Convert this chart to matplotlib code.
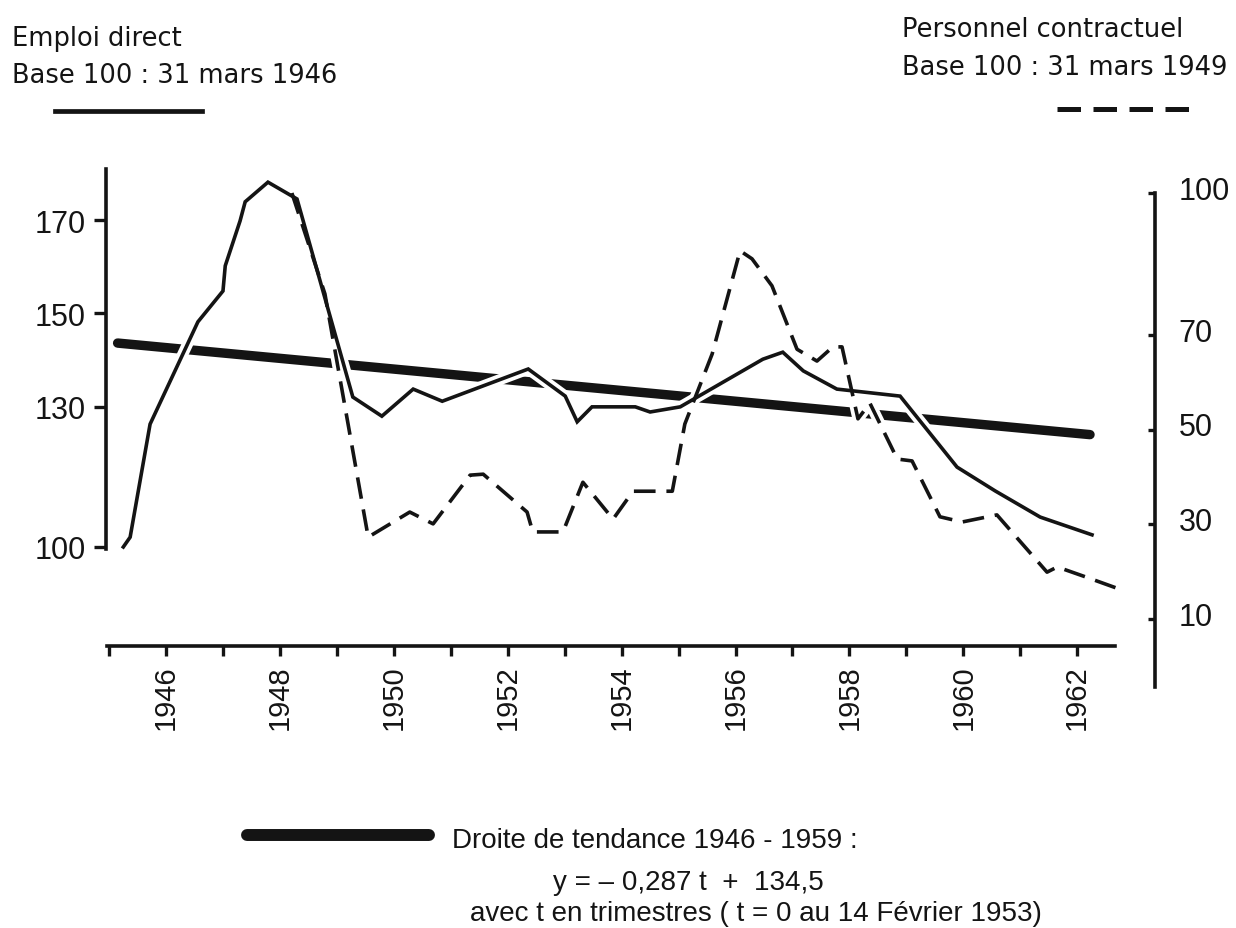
import numpy as np
import matplotlib
matplotlib.use("Agg")
import matplotlib.pyplot as plt
from matplotlib import font_manager
from matplotlib.font_manager import FontProperties
from matplotlib.lines import Line2D
from matplotlib.transforms import ScaledTranslation

# Emploi direct, indice base 100 au 31 mars 1946 (echelle de gauche)
emploi_date = [1945.25, 1945.37, 1945.72, 1946.56, 1947.00, 1947.04, 1947.30,
               1947.39, 1947.79, 1948.30, 1949.28, 1949.79, 1950.34, 1950.85,
               1952.36, 1953.01, 1953.22, 1953.48, 1954.24, 1954.50, 1955.03,
               1956.48, 1956.83, 1957.19, 1957.78, 1958.89, 1959.89, 1960.56,
               1961.35, 1962.26]
emploi_indice = [100.0, 102.1, 126.3, 148.2, 154.8, 160.2, 169.8,
                 173.9, 178.1, 174.5, 132.1, 128.0, 133.8, 131.2,
                 138.1, 132.3, 126.8, 130.0, 130.0, 128.9, 130.0,
                 140.2, 141.7, 137.7, 133.8, 132.3, 117.1, 112.0,
                 106.4, 102.6]

# Personnel contractuel, indice base 100 au 31 mars 1949 (echelle de droite)
contrat_date = [1948.21, 1948.79, 1949.55, 1950.28, 1950.69, 1951.34, 1951.57,
                1952.34, 1952.44, 1952.97, 1953.32, 1953.85, 1954.20, 1954.89,
                1955.11, 1955.59, 1956.08, 1956.29, 1956.64, 1957.08, 1957.43,
                1957.71, 1957.87, 1958.15, 1958.36, 1958.84, 1959.10, 1959.59,
                1959.98, 1960.59, 1961.47, 1961.65, 1962.10, 1962.70]
contrat_indice = [100.0, 78.7, 27.3, 32.6, 30.1, 40.4, 40.6,
                  32.6, 28.4, 28.4, 38.9, 31.1, 37.0, 37.0,
                  51.2, 66.0, 87.8, 86.1, 80.4, 67.0, 64.5,
                  67.5, 67.5, 52.3, 55.6, 43.8, 43.4, 31.6,
                  30.5, 32.0, 19.9, 21.0, 19.1, 16.5]

# Droite de tendance 1946-1959 : y = -0,287 t + 134,5 (t en trimestres)
tendance_pente = -0.287
tendance_origine = 134.5
tendance_t0 = 1953.125          # t = 0 au 14 fevrier 1953
tendance_t = [-31.9, 36.4]

annees = list(range(1945, 1963))
annees_etiquetees = list(range(1946, 1963, 2))
graduations_gauche = [100, 130, 150, 170]
graduations_droite = [10, 30, 50, 70, 100]

W, H = 1236, 929
encre = "#141414"


def famille(*noms):
    for nom in noms:
        try:
            font_manager.findfont(FontProperties(family=nom), fallback_to_default=False)
            return nom
        except ValueError:
            pass
    return "DejaVu Sans"


police = famille("Liberation Sans", "Noto Sans")
police_titre = famille("DejaVu Sans")
plt.rcParams["font.family"] = [police, "DejaVu Sans"]


def fx(x):
    return x / W


def fy(y):
    return 1 - y / H


fig = plt.figure(figsize=(W / 100, H / 100), dpi=100)
fig.patch.set_facecolor("white")

ax = fig.add_axes([fx(106), fy(647), (1155 - 106) / W, (647 - 170) / H])
ax.set_xlim(1944.946, 1963.366)
ax.set_ylim(78.80, 180.92)
ax.patch.set_alpha(0)

ax2 = ax.twinx()
ax2.set_ylim(4.30, 105.08)

# droite de tendance, coupee par les courbes grace a un liseré blanc
t = np.array(tendance_t)
ax.plot(tendance_t0 + t / 4, tendance_origine + tendance_pente * t,
        color=encre, lw=6.8, solid_capstyle="round", zorder=1)

ax.plot(emploi_date, emploi_indice, color="white", lw=8,
        solid_joinstyle="round", zorder=2)
ax.plot(contrat_date, contrat_indice, color="white", lw=8,
        transform=ax2.transData, zorder=2)

ax.plot(emploi_date, emploi_indice, color=encre, lw=2.6,
        solid_joinstyle="miter", zorder=3)
ax.plot(contrat_date, contrat_indice, color=encre, lw=2.6,
        dashes=(6, 3), transform=ax2.transData, zorder=3)

# axes
for cote in ("top", "right"):
    ax.spines[cote].set_visible(False)
for cote in ("top", "left", "bottom"):
    ax2.spines[cote].set_visible(False)
for sp in (ax.spines["left"], ax.spines["bottom"], ax2.spines["right"]):
    sp.set_linewidth(2.6)
    sp.set_color(encre)
ax.spines["left"].set_bounds(99.6, 180.92)
ax.spines["bottom"].set_bounds(1944.97, 1962.66)
ax2.spines["right"].set_bounds(-4.4, 100)

ax.set_xticks(annees)
ax.set_xticklabels([str(a) if a in annees_etiquetees else "" for a in annees])
ax.tick_params(axis="x", direction="out", length=7.2, width=2.4, pad=5.8,
               labelsize=21, labelrotation=90, color=encre, labelcolor=encre)
ax.set_yticks(graduations_gauche)
ax.tick_params(axis="y", direction="out", length=8.6, width=2.4, pad=5.8,
               labelsize=22, color=encre, labelcolor=encre)
ax2.set_yticks(graduations_droite)
ax2.tick_params(axis="y", direction="in", length=5, width=2.4, pad=17,
                labelsize=22, color=encre, labelcolor=encre)
# les chiffres de droite sont poses un peu au-dessus de leur graduation
decalage = ScaledTranslation(0, 6 / 100, fig.dpi_scale_trans)
for lab in ax2.get_yticklabels():
    lab.set_transform(lab.get_transform() + decalage)

# en-tetes et legendes
entete = dict(fontsize=18.5, color=encre, va="baseline", family=police_titre)
fig.text(fx(12), fy(46), "Emploi direct", **entete)
fig.text(fx(12), fy(83), "Base 100 : 31 mars 1946", **entete)
fig.add_artist(Line2D([fx(55), fx(202)], [fy(112), fy(112)], color=encre, lw=3.4,
                      transform=fig.transFigure))

fig.text(fx(902), fy(37), "Personnel contractuel", **entete)
fig.text(fx(902), fy(75), "Base 100 : 31 mars 1949", **entete)
fig.add_artist(Line2D([fx(1057), fx(1197)], [fy(110), fy(110)], color=encre, lw=3.6,
                      dashes=(4.7, 2.5), transform=fig.transFigure))

pied = dict(fontsize=20, color=encre, va="baseline", family=police)
fig.add_artist(Line2D([fx(247), fx(429)], [fy(836), fy(836)], color=encre, lw=8.6,
                      solid_capstyle="round", transform=fig.transFigure))
fig.text(fx(452), fy(848), "Droite de tendance 1946 - 1959 :", **pied)
fig.text(fx(553), fy(890), "y = \u2013 0,287 t  +  134,5", **pied)
fig.text(fx(470), fy(921), "avec t en trimestres ( t = 0 au 14 F\u00e9vrier 1953)", **pied)

fig.savefig("out.png", dpi=100, facecolor="white")
